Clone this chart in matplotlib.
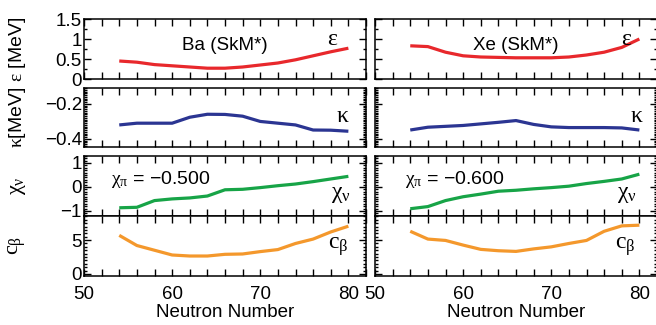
import matplotlib
matplotlib.use("Agg")
import matplotlib.pyplot as plt
from matplotlib.ticker import MultipleLocator

plt.rcParams['font.family'] = ['Liberation Sans', 'DejaVu Sans']
# upright serif greek inside math text
plt.rcParams['mathtext.fontset'] = 'custom'
plt.rcParams['mathtext.rm'] = 'Liberation Serif'
plt.rcParams['mathtext.it'] = 'Liberation Serif'
plt.rcParams['mathtext.bf'] = 'Liberation Serif:bold'
plt.rcParams['font.size'] = 12

# neutron numbers along the chains
N = [54, 56, 58, 60, 62, 64, 66, 68, 70, 72, 74, 76, 78, 80]

# Ba isotopes (SkM*)
ba_eps = [0.45, 0.42, 0.36, 0.33, 0.30, 0.27, 0.27, 0.30, 0.35, 0.40, 0.48, 0.58, 0.68, 0.77]
ba_kappa = [-0.320, -0.310, -0.310, -0.310, -0.276, -0.259, -0.260, -0.270, -0.300, -0.310,
            -0.320, -0.349, -0.350, -0.356]
ba_chi = [-0.87, -0.85, -0.57, -0.50, -0.46, -0.38, -0.12, -0.10, -0.03, 0.05, 0.12, 0.22, 0.33, 0.44]
ba_cbeta = [5.7, 4.2, 3.5, 2.8, 2.65, 2.65, 2.9, 2.95, 3.3, 3.6, 4.5, 5.15, 6.2, 7.05]

# Xe isotopes (SkM*)
xe_eps = [0.83, 0.81, 0.67, 0.58, 0.55, 0.54, 0.53, 0.53, 0.53, 0.55, 0.60, 0.67, 0.79, 1.00]
xe_kappa = [-0.349, -0.333, -0.328, -0.323, -0.314, -0.305, -0.295, -0.317, -0.331, -0.335,
            -0.335, -0.335, -0.337, -0.349]
xe_chi = [-0.91, -0.82, -0.57, -0.41, -0.30, -0.18, -0.14, -0.08, -0.03, 0.03, 0.14, 0.23, 0.33, 0.53]
xe_cbeta = [6.3, 5.15, 4.95, 4.26, 3.63, 3.43, 3.33, 3.7, 4.0, 4.5, 4.95, 6.3, 7.1, 7.2]

nuclei = ['Ba (SkM*)', 'Xe (SkM*)']
chi_pi = [-0.500, -0.600]

red = '#e8282c'
blue = '#2b3592'
green = '#17a447'
orange = '#f4982c'

fig = plt.figure(figsize=(6.56, 3.25), dpi=100)

W = 656.0
H = 325.0
col_left = [84, 375]
col_w = 282
rows = [(19, 79), (88, 147), (155.7, 215.7), (215.7, 276)]


def make_ax(x0, top, bot):
    return fig.add_axes([x0 / W, 1 - bot / H, col_w / W, (bot - top) / H])


series = [
    [ba_eps, ba_kappa, ba_chi, ba_cbeta],
    [xe_eps, xe_kappa, xe_chi, xe_cbeta],
]
colors = [red, blue, green, orange]
ylims = [(0, 1.5), (-0.446, -0.109), (-1.2, 1.3), (-0.3, 8.6)]
ymaj = [0.5, 0.2, 1.0, 5.0]
ymin = [0.25, 0.01, 0.1, 0.5]
ylabels = [r'$\varepsilon$ [MeV]', r'$\kappa$[MeV]', r'$\chi_\nu$', r'$c_\beta$']
ylabel_size = [14, 14, 16, 16]
tags = [r'$\varepsilon$', r'$\kappa$', r'$\chi_\nu$', r'$c_\beta$']
tag_pos = [[(78.2, 1.0), (79.4, -0.27), (79.1, -0.3), (78.8, 4.0)],
           [(78.6, 1.0), (79.7, -0.27), (78.6, -0.3), (78.4, 4.1)]]

for c in range(2):
    for r in range(4):
        top, bot = rows[r]
        ax = make_ax(col_left[c], top, bot)
        ax.plot(N, series[c][r], color=colors[r], lw=2.3, solid_capstyle='butt')
        ax.set_xlim(50, 82)
        ax.set_ylim(*ylims[r])
        ax.xaxis.set_major_locator(MultipleLocator(10))
        ax.xaxis.set_minor_locator(MultipleLocator(2))
        ax.yaxis.set_major_locator(MultipleLocator(ymaj[r]))
        ax.yaxis.set_minor_locator(MultipleLocator(ymin[r]))
        ax.tick_params(which='both', direction='in', top=True, right=True, width=1.0,
                       labelsize=13.5, pad=1.5)
        ax.tick_params(axis='x', which='both', length=5, pad=7)
        ax.tick_params(axis='y', which='major', length=5)
        ax.tick_params(axis='y', which='minor', length=2.5)
        for sp in ax.spines.values():
            sp.set_linewidth(1.1)
        if r < 3:
            ax.tick_params(axis='x', labelbottom=False)
        else:
            ax.set_xticks([50, 60, 70, 80])
            ax.set_xlabel('Neutron Number', fontsize=13.5, labelpad=1)
        if r == 0:
            ax.set_yticks([0, 0.5, 1, 1.5])
            ax.set_yticklabels(['0', '0.5', '1', '1.5'])
        if c == 1:
            ax.tick_params(axis='y', labelleft=False)
        else:
            ax.set_ylabel(ylabels[r], fontsize=ylabel_size[r])
            ax.yaxis.set_label_coords(-0.2, 0.5)
        tx, ty = tag_pos[c][r]
        ax.text(tx, ty, tags[r], fontsize=17, ha='center', va='center')
        if r == 0:
            ax.text(66.0, 0.85, nuclei[c], fontsize=13.5, ha='center', va='center')
        if r == 2:
            ax.text(53.1 + 0.3 * c, 0.31,
                    r'$\chi_\pi$' + ' = \u2212' + '%.3f' % abs(chi_pi[c]),
                    fontsize=14, ha='left', va='center')

fig.savefig('out.png', dpi=100)
